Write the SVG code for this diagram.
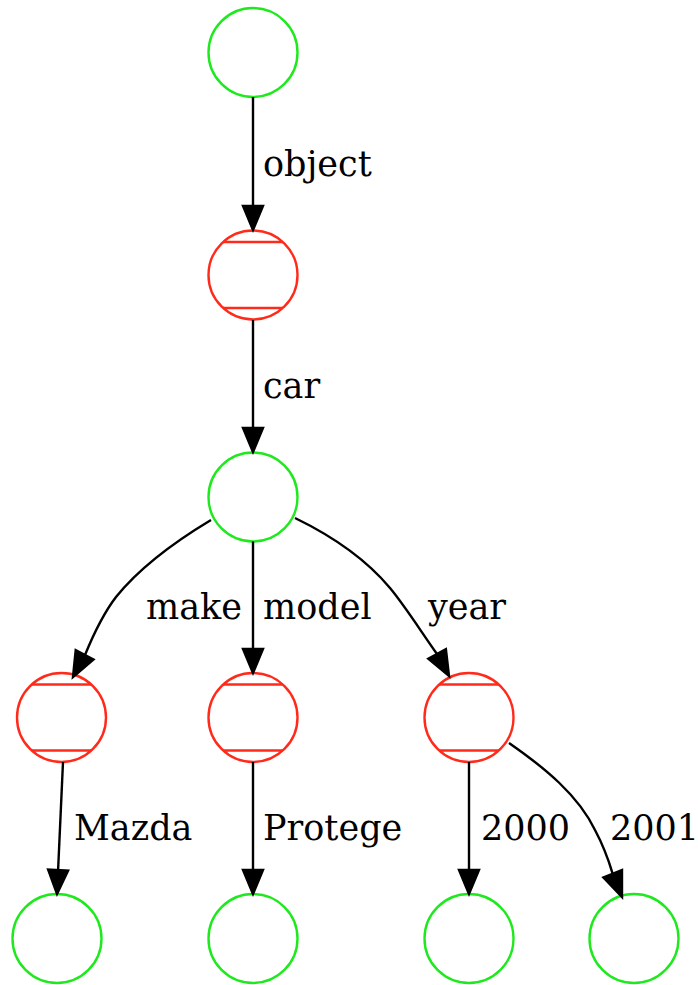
<svg xmlns="http://www.w3.org/2000/svg" width="698" height="985" viewBox="0 0 698 985">
<style>
.g{fill:none;stroke:#1de91d;stroke-width:2.4}
.r{fill:none;stroke:#ff2a1a;stroke-width:2.4}
.e{fill:none;stroke:#000;stroke-width:2.4}
.a{fill:#000;stroke:#000;stroke-width:2.4}
.t{font-family:"DejaVu Serif",serif;font-size:35px;fill:#000}
</style>
<rect width="698" height="985" fill="#fff"/>
<defs>
<g id="mc"><circle r="44.5" class="r"/><line x1="-29.8" y1="-33" x2="29.8" y2="-33" class="r"/><line x1="-29.8" y1="33" x2="29.8" y2="33" class="r"/></g>
</defs>
<g id="n0"><circle cx="253" cy="52.5" r="44.5" class="g"/></g>
<g id="n1"><use href="#mc" x="253" y="275"/></g>
<g id="n2"><circle cx="253" cy="497" r="44.5" class="g"/></g>
<g id="n3"><use href="#mc" x="61.5" y="717.5"/></g>
<g id="n4"><use href="#mc" x="253" y="717.5"/></g>
<g id="n5"><use href="#mc" x="469" y="717.5"/></g>
<g id="n6"><circle cx="57" cy="938.5" r="44.5" class="g"/></g>
<g id="n7"><circle cx="253" cy="938.5" r="44.5" class="g"/></g>
<g id="n8"><circle cx="469" cy="938.5" r="44.5" class="g"/></g>
<g id="n9"><circle cx="634" cy="938.5" r="44.5" class="g"/></g>
<g id="edges">
<path class="e" d="M253,97 L253,206"/><polygon class="a" points="253,230 243,206 263,206"/>
<path class="e" d="M253,320 L253,428"/><polygon class="a" points="253,452 243,428 263,428"/>
<path class="e" d="M211,520 C176,541 141,566 116,597 C103,614 94,633 85,655"/><polygon class="a" points="73,677 93.5,659.4 75.7,650.2"/>
<path class="e" d="M253,541.5 L253,649"/><polygon class="a" points="253,673 243,649 263,649"/>
<path class="e" d="M295,518 C330,535 365,558 390,588 C405,606 420,630 437,654"/><polygon class="a" points="449,676 445.9,649.2 428.3,658.8"/>
<path class="e" d="M63,762 L58.1,870"/><polygon class="a" points="57,894 68.1,870.5 48.1,869.6"/>
<path class="e" d="M253,762 L253,870"/><polygon class="a" points="253,894 243,870 263,870"/>
<path class="e" d="M469,762 L469,870"/><polygon class="a" points="469,894 459,870 479,870"/>
<path class="e" d="M509,743 C545,768 578,795 595,830 C603,845 608,858 612.7,873.8"/><polygon class="a" points="622,897 622,870.1 603.4,877.5"/>
</g>
<g id="labels">
<text class="t" x="263" y="176">object</text>
<text class="t" x="263" y="398">car</text>
<text class="t" x="242" y="619" text-anchor="end">make</text>
<text class="t" x="263" y="619">model</text>
<text class="t" x="428" y="619">year</text>
<text class="t" x="74" y="840">Mazda</text>
<text class="t" x="263" y="840">Protege</text>
<text class="t" x="481" y="840">2000</text>
<text class="t" x="610" y="840">2001</text>
</g>
</svg>
